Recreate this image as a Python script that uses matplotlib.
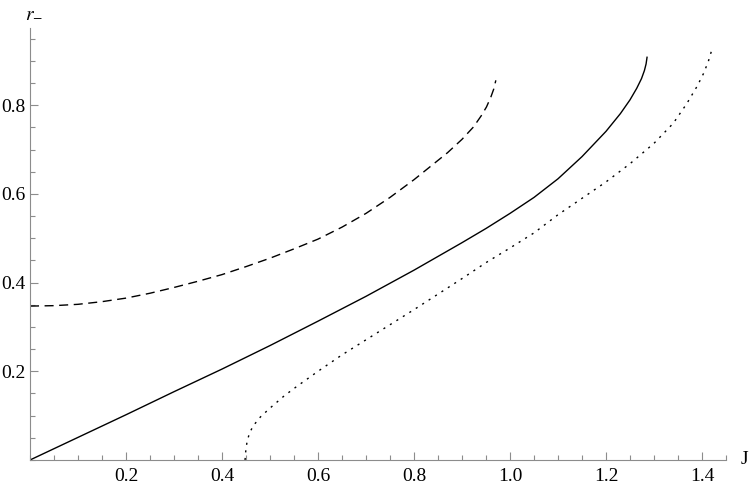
"""
r_- versus J, three branches (Mathematica-style axes through the origin).
"""

import matplotlib
matplotlib.use('Agg')
import matplotlib.pyplot as plt
from matplotlib.ticker import MultipleLocator

# ------------------------------------------------------------
# Data
# ------------------------------------------------------------
solid_J = [0.0, 0.1, 0.2, 0.3, 0.4, 0.5, 0.6, 0.7, 0.8, 0.9, 0.95, 1.0, 1.05, 1.1, 1.15,
           1.2, 1.23, 1.25, 1.264, 1.274, 1.28, 1.2835, 1.2855]
solid_r = [0.0, 0.051, 0.102, 0.154, 0.205, 0.258, 0.313, 0.369, 0.428, 0.490, 0.522, 0.556, 0.592, 0.634, 0.684,
           0.741, 0.781, 0.812, 0.838, 0.860, 0.878, 0.893, 0.908]

dashed_J = [0.0, 0.05, 0.1, 0.15, 0.2, 0.25, 0.3, 0.35, 0.4, 0.45, 0.5, 0.55, 0.6, 0.65, 0.7,
            0.75, 0.8, 0.87, 0.9, 0.924, 0.94, 0.951, 0.96, 0.966, 0.9705]
dashed_r = [0.347, 0.348, 0.351, 0.357, 0.365, 0.376, 0.389, 0.403, 0.418, 0.436, 0.455, 0.476, 0.498, 0.525, 0.556,
            0.592, 0.632, 0.693, 0.723, 0.751, 0.776, 0.796, 0.818, 0.836, 0.856]

dotted_J = [0.448, 0.4495, 0.452, 0.457, 0.465, 0.48, 0.5, 0.53, 0.556, 0.6, 0.65, 0.7, 0.75, 0.8, 0.85,
            0.9, 0.95, 1.0, 1.05, 1.1, 1.15, 1.2, 1.25, 1.3, 1.34, 1.368, 1.39, 1.403, 1.413, 1.4205]
dotted_r = [0.0, 0.02, 0.04, 0.06, 0.077, 0.097, 0.117, 0.145, 0.166, 0.2, 0.237, 0.271, 0.305, 0.339, 0.374,
            0.409, 0.445, 0.478, 0.512, 0.553, 0.59, 0.627, 0.668, 0.714, 0.759, 0.803, 0.843, 0.871, 0.898, 0.925]

plt.rcParams['font.family'] = ['Liberation Serif', 'DejaVu Serif']
plt.rcParams['mathtext.fontset'] = 'stix'

AXIS_GRAY = '#8c8c8c'

fig = plt.figure(figsize=(7.5, 4.88), dpi=100)
ax = fig.add_axes([30 / 750, 28 / 488, 696 / 750, 432 / 488])

ax.plot(solid_J, solid_r, color='black', lw=1.0, solid_joinstyle='round')
ax.plot(dashed_J, dashed_r, color='black', lw=1.0, dashes=(6.5, 4.0))
ax.plot(dotted_J, dotted_r, color='black', lw=1.0, dashes=(1.5, 4.0))

ax.set_xlim(0, 1.45)
ax.set_ylim(0, 0.974)

for side in ('top', 'right'):
    ax.spines[side].set_visible(False)
for side in ('left', 'bottom'):
    ax.spines[side].set_color(AXIS_GRAY)
    ax.spines[side].set_linewidth(0.8)

ax.xaxis.set_minor_locator(MultipleLocator(0.05))
ax.yaxis.set_minor_locator(MultipleLocator(0.05))
ax.set_xticks([0.2, 0.4, 0.6, 0.8, 1.0, 1.2, 1.4])
ax.set_xticklabels(['0.2', '0.4', '0.6', '0.8', '1.0', '1.2', '1.4'])
ax.set_yticks([0.2, 0.4, 0.6, 0.8])
ax.set_yticklabels(['0.2', '0.4', '0.6', '0.8'])

ax.tick_params(which='both', direction='in', color=AXIS_GRAY, width=0.8,
               labelsize=14, labelcolor='black')
ax.tick_params(which='major', length=5.8)
ax.tick_params(which='minor', length=3.6)
ax.tick_params(axis='x', which='major', pad=6)
ax.tick_params(axis='y', which='major', pad=3)

# axis labels at the ends of the axes
fig.text(741 / 750, 1 - 460 / 488, 'J', fontsize=14, ha='left', va='center')
fig.text(34 / 750, 1 - 13 / 488, r'$r_{-}$', fontsize=14, ha='center', va='center')

fig.savefig('out.png', dpi=100)
plt.close(fig)
